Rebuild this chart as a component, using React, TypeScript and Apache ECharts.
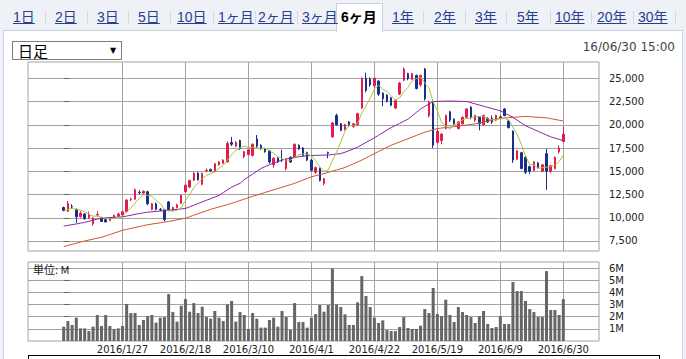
import React, { useEffect, useRef } from 'react';
import * as echarts from 'echarts';

const YEAR = '2016';
const dates = [
  '1/6','1/7','1/8','1/12','1/13','1/14','1/15','1/18','1/19','1/20',
  '1/21','1/22','1/25','1/26','1/27','1/28','1/29','2/1','2/2','2/3',
  '2/4','2/5','2/8','2/9','2/10','2/12','2/15','2/16','2/17','2/18',
  '2/19','2/22','2/23','2/24','2/25','2/26','2/29','3/1','3/2','3/3',
  '3/4','3/7','3/8','3/9','3/10','3/11','3/14','3/15','3/16','3/17',
  '3/18','3/22','3/23','3/24','3/25','3/28','3/29','3/30','3/31','4/1',
  '4/4','4/5','4/6','4/7','4/8','4/11','4/12','4/13','4/14','4/15',
  '4/18','4/19','4/20','4/21','4/22','4/25','4/26','4/27','4/28','5/2',
  '5/6','5/9','5/10','5/11','5/12','5/13','5/16','5/17','5/18','5/19',
  '5/20','5/23','5/24','5/25','5/26','5/27','5/30','5/31','6/1','6/2',
  '6/3','6/6','6/7','6/8','6/9','6/10','6/13','6/14','6/15','6/16',
  '6/17','6/20','6/21','6/22','6/23','6/24','6/27','6/28','6/29','6/30',
];
const labelDates = ['1/27', '2/18', '3/10', '4/1', '4/22', '5/19', '6/9', '6/30'];

const open = [
  11100,10700,11200,10900,10100,10400,10000,9350,10300,10000,
  9800,9700,10000,10200,10300,10650,11950,12000,12750,12650,
  12800,10900,11500,10900,10850,11700,10850,11100,11550,12800,
  13300,14050,14800,13600,15050,15200,14950,15700,15850,16000,
  18100,17700,18300,16600,16800,16700,18500,17800,17400,17200,
  15700,16400,16300,15300,16500,16500,17800,17500,17000,16200,
  14900,15300,13700,17050,18700,21000,20100,19500,20300,19800,
  20000,21800,25000,24900,24200,24700,23400,23200,22900,21800,
  23300,24800,25500,24900,25300,24300,26000,21000,22500,18100,
  18300,19600,21400,20600,19600,20100,20800,21900,20500,20800,
  20000,20700,20700,20500,20850,21700,20400,19300,16300,17000,
  16500,15500,15100,15900,15000,16900,15000,15300,17100,18200,
];
const close = [
  10800,11550,11150,10100,10500,9900,10350,9950,10350,9600,
  9550,9950,10250,10400,10650,11900,12000,13000,12700,12850,
  11500,11500,10900,10850,9800,10850,11100,11400,12400,13500,
  14000,14800,14100,14750,15100,15050,15800,16000,16200,18000,
  17900,18100,17450,17100,17300,17900,17700,17400,17100,16000,
  16400,16000,16250,16300,16000,17900,17400,16700,16200,15100,
  15400,14000,14200,16950,20200,20000,19400,20000,20000,20100,
  21200,25000,23700,24300,25000,23300,22800,22500,22100,22600,
  24500,26000,24950,25500,23900,25300,22800,22400,17800,19300,
  19000,21000,20500,20100,20300,20800,21700,20800,21000,20100,
  21000,20300,20300,21000,20750,21000,19700,16200,17200,15300,
  14900,15000,16000,15400,15700,15000,15600,16500,17500,19000,
];
const low = [
  10700,10600,10950,9450,10000,9800,9900,9150,10100,9550,
  9500,9650,9950,10100,10250,10600,11800,11950,12500,12550,
  11350,10800,10800,10700,9600,10700,10750,11000,11500,12700,
  13200,13950,14000,13500,14900,14950,14900,15600,15800,15950,
  17700,17600,17300,16400,16700,16600,17500,17300,17000,15800,
  15400,15900,16000,15100,15900,16400,17300,16600,16100,15000,
  14700,13900,13500,16400,18600,19900,19300,19400,19900,19700,
  19900,21700,23500,24100,24000,23100,22000,22400,22000,21700,
  23200,24700,24800,24800,23800,24100,22600,20800,17500,18000,
  17900,19500,20300,20000,19500,20000,20700,20600,20300,19400,
  19900,20200,20100,20400,20600,20900,19600,15900,16200,15200,
  14700,14700,15000,15300,14900,13000,14800,15200,16900,18100,
];
const high = [
  11200,11800,11450,11000,10700,10500,10650,10050,10700,10100,
  9900,10050,10350,10550,10750,12000,12150,13150,12950,12950,
  12900,11600,11650,11050,10950,11800,11200,11500,12500,13600,
  14100,14900,14900,14850,15300,15300,15900,16100,16300,18200,
  18700,18250,18400,17200,17400,18000,18900,17900,17500,17300,
  16500,16500,17300,16400,16600,18000,17900,17600,17100,16300,
  15500,15400,14300,17100,20300,21200,20200,20100,20400,20200,
  21300,25100,25600,25100,25100,24800,23500,23300,23000,22700,
  24600,26150,25600,25600,25400,25400,26100,22600,22700,19500,
  19100,21100,21500,20700,20400,20900,21800,22000,21100,20900,
  21100,20800,21000,21100,21000,21800,20500,19400,17300,17100,
  16600,15600,16100,16000,15800,17400,15700,16600,17800,19800,
];
// volume in millions of shares
const volume = [
  1.18,1.64,1.32,1.92,1.04,1.04,0.82,1.18,2.14,1.23,
  2.14,1.23,0.99,1.04,1.23,3.04,2.30,2.30,1.32,1.73,
  2.05,2.14,1.51,1.92,1.97,3.86,2.38,1.59,2.90,3.45,
  2.41,3.12,2.30,2.82,1.97,1.84,2.47,1.92,1.64,3.01,
  3.29,1.59,2.38,2.14,0.99,2.30,1.84,1.10,1.10,1.73,
  1.92,1.18,2.47,1.97,0.93,3.12,1.56,1.56,1.10,1.92,
  2.22,2.96,2.41,2.96,5.97,3.00,2.80,2.19,1.32,1.32,
  3.18,5.34,3.70,2.79,1.92,1.48,1.70,0.90,0.82,0.82,
  1.15,1.97,1.07,0.99,0.99,1.26,2.63,2.30,4.36,2.22,
  2.05,3.40,2.14,1.56,2.79,2.38,2.14,1.97,1.48,2.05,
  2.47,1.40,1.07,1.15,2.05,1.40,1.40,4.85,4.11,4.11,
  3.29,2.63,2.38,1.97,1.97,5.75,2.55,2.55,2.14,3.45,
];
const ma5 = [
  10700,10900,11000,10900,10820,10640,10400,10160,10210,10030,
  9960,9880,9940,9950,10160,10630,11040,11590,12050,12490,
  12410,12310,11890,11520,10910,10780,10700,10800,11110,11850,
  12480,13220,13760,14230,14550,14760,14960,15340,15630,16210,
  16780,17240,17530,17710,17570,17570,17490,17480,17480,17220,
  16920,16580,16350,16190,16190,16490,16770,16860,16840,16660,
  16160,15480,14980,15130,16150,17070,18150,19310,19920,19900,
  20140,21260,22000,22860,23840,24260,23820,23580,23140,22660,
  22900,23540,24030,24710,24970,25130,24490,23980,22440,21520,
  20260,19900,19520,19980,20180,20540,20680,20740,20920,20880,
  20920,20640,20540,20540,20670,20670,20550,19730,18970,17880,
  16660,15720,15680,15320,15400,15420,15540,15640,16060,16720,
];
const ma25 = [
  9100,9180,9260,9330,9420,9500,9620,9740,9860,9950,
  9990,10020,10050,10080,10100,10180,10270,10370,10450,10530,
  10600,10640,10680,10720,10760,10800,10850,10900,10950,11000,
  11180,11350,11530,11700,11880,12050,12230,12400,12700,13000,
  13300,13500,13700,14100,14400,14700,15000,15300,15500,15700,
  15900,16050,16200,16320,16420,16500,16560,16620,16660,16700,
  16710,16720,16740,16750,16800,16850,16900,17050,17230,17400,
  17600,17850,18100,18350,18600,18880,19150,19430,19700,19920,
  20150,20380,20600,20970,21330,21700,21970,22230,22500,22520,
  22530,22540,22550,22540,22530,22520,22500,22380,22250,22130,
  22000,21880,21750,21630,21500,21270,21030,20800,20500,20200,
  19900,19700,19500,19300,19100,18900,18700,18570,18430,18300,
];
const ma75 = [
  6900,7020,7140,7260,7380,7500,7600,7700,7800,7900,
  8050,8200,8350,8500,8650,8750,8850,8950,9050,9150,
  9250,9320,9390,9460,9530,9600,9690,9780,9870,9950,
  10110,10270,10430,10590,10750,10900,11030,11160,11290,11420,
  11550,11700,11850,12000,12150,12300,12440,12580,12720,12860,
  13000,13140,13280,13420,13560,13700,13880,14050,14230,14400,
  14520,14630,14750,14880,15010,15140,15270,15400,15600,15800,
  16000,16200,16430,16670,16900,17130,17350,17580,17800,17980,
  18150,18330,18500,18680,18850,19030,19200,19330,19470,19600,
  19650,19700,19750,19800,19860,19920,19980,20040,20100,20200,
  20300,20400,20500,20600,20700,20730,20770,20800,20830,20870,
  20900,20870,20840,20810,20780,20750,20660,20580,20490,20400,
];
const priceTicks = [7500, 10000, 12500, 15000, 17500, 20000, 22500, 25000];
const volumeTicks = [1, 2, 3, 4, 5, 6];
const tabLabels = ['1日','2日','3日','5日','10日','1ヶ月','2ヶ月','3ヶ月','6ヶ月','1年','2年','3年','5年','10年','20年','30年'];
const activeTab = '6ヶ月';
const stamp = '16/06/30 15:00';
const periodLabel = '日足';
const unitLabel = '単位: M';

// layout only
const tabX = [13, 55, 97, 138, 177, 218, 258, 302, 341, 392, 434, 475, 517, 555, 597, 638];
const sepX = [45, 87, 128, 170, 213, 255, 297, 423, 465, 506, 550, 591, 633, 675];

const RED = '#e31c4d';
const NAVY = '#1a2f8c';
const GRID = '#a3a3a3';
const FONT = 'DejaVu Sans';

export default function App() {
  const ref = useRef<HTMLDivElement>(null);
  useEffect(() => {
    const chart = echarts.init(ref.current!, undefined, { renderer: 'svg' });
    const gridIdx = labelDates.map((d) => dates.indexOf(d));
    const pad = 8.5;
    const xMin = -pad;
    const xMax = dates.length - 1 + pad;
    const option: any = {
      animation: false,
      backgroundColor: 'transparent',
      textStyle: { fontFamily: FONT },
      grid: [
        { left: 28, top: 62, width: 571, height: 189, show: true, borderColor: GRID, borderWidth: 1, backgroundColor: '#fff', outerBoundsMode: 'none' },
        { left: 28, top: 262, width: 571, height: 79, show: true, borderColor: GRID, borderWidth: 1, backgroundColor: '#fff', outerBoundsMode: 'none' },
      ],
      graphic: [
        { type: 'text', left: 33, top: 263, z: 10, style: { text: unitLabel, fontSize: 11, fill: '#222', fontFamily: 'Noto Sans CJK JP' } },
      ],
      xAxis: [
        {
          type: 'value', gridIndex: 0, min: xMin, max: xMax,
          axisLine: { show: false }, axisTick: { show: false, customValues: gridIdx },
          axisLabel: { show: false },
          splitLine: { show: true, lineStyle: { color: GRID, width: 1 } },
        },
        {
          type: 'value', gridIndex: 1, min: xMin, max: xMax,
          axisLine: { show: false }, axisTick: { show: false, customValues: gridIdx },
          axisLabel: {
            show: true, customValues: gridIdx, margin: 3, fontSize: 10, color: '#222', fontFamily: FONT,
            formatter: (v: number) => `${YEAR}/${dates[Math.round(v)]}`,
          },
          splitLine: { show: true, lineStyle: { color: GRID, width: 1 } },
        },
      ],
      yAxis: [
        {
          type: 'value', gridIndex: 0, position: 'right', min: 6424, max: 26754, scale: true,
          axisLine: { show: false },
          axisTick: { show: true, customValues: priceTicks, length: 6, lineStyle: { color: '#666' } },
          axisLabel: {
            show: true, customValues: priceTicks, margin: 10, fontSize: 10, color: '#222', fontFamily: FONT,
            formatter: (v: number) => v.toLocaleString('en-US'),
          },
          splitLine: { show: true, lineStyle: { color: GRID, width: 1 } },
        },
        {
          type: 'value', gridIndex: 1, position: 'right', min: 0, max: 6.5,
          axisLine: { show: false },
          axisTick: { show: true, customValues: volumeTicks, length: 6, lineStyle: { color: '#666' } },
          axisLabel: {
            show: true, customValues: volumeTicks, margin: 10, fontSize: 10, color: '#222', fontFamily: FONT,
            formatter: (v: number) => `${v}M`,
          },
          splitLine: { show: true, lineStyle: { color: GRID, width: 1 } },
        },
      ],
      series: [
        {
          type: 'candlestick', xAxisIndex: 0, yAxisIndex: 0, barWidth: 2, z: 2,
          data: dates.map((_, i) => [i, open[i], close[i], low[i], high[i]]),
          itemStyle: { color: RED, color0: NAVY, borderColor: RED, borderColor0: NAVY, borderWidth: 1 },
        },
        {
          type: 'line', xAxisIndex: 0, yAxisIndex: 0, z: 3, symbol: 'none', showSymbol: false,
          data: dates.map((_, i) => [i, ma75[i]]), lineStyle: { color: '#c9562c', width: 1 },
        },
        {
          type: 'line', xAxisIndex: 0, yAxisIndex: 0, z: 3, symbol: 'none', showSymbol: false,
          data: dates.map((_, i) => [i, ma25[i]]), lineStyle: { color: '#8a24a8', width: 1 },
        },
        {
          type: 'line', xAxisIndex: 0, yAxisIndex: 0, z: 4, symbol: 'none', showSymbol: false,
          data: dates.map((_, i) => [i, ma5[i]]), lineStyle: { color: '#a9c23c', width: 1 },
        },
        {
          type: 'bar', xAxisIndex: 1, yAxisIndex: 1, barWidth: 3, z: 2,
          data: dates.map((_, i) => [i, volume[i]]), itemStyle: { color: '#666666' },
        },
      ],
    };
    chart.setOption(option);
    return () => chart.dispose();
  }, []);

  const tabFont = '"Liberation Sans", "Noto Sans CJK JP", sans-serif';
  return (
    <div style={{ position: 'fixed', left: 0, top: 0, width: 686, height: 359, background: '#eef2f7', overflow: 'hidden' }}>
      <div style={{ position: 'absolute', left: 3, top: 30, width: 680, height: 340, background: '#fff', border: '1px solid #c9d3df', boxSizing: 'border-box' }} />
      <div style={{ position: 'absolute', left: 336, top: 3, width: 47, height: 29, background: '#fff', border: '1px solid #c9d3df', borderBottom: 'none', boxSizing: 'border-box' }} />
      {sepX.map((x, k) => (
        <div key={'s' + k} style={{ position: 'absolute', left: x, top: 11, width: 1, height: 13, background: '#d3d9e1' }} />
      ))}
      {tabLabels.map((t, k) => (
        <span
          key={t}
          style={{
            position: 'absolute', left: tabX[k], top: 9, fontSize: 14, lineHeight: '16px', fontFamily: tabFont,
            color: t === activeTab ? '#000' : '#2a3e8e',
            fontWeight: t === activeTab ? 'bold' : 'normal',
            textDecoration: t === activeTab ? 'none' : 'underline',
            whiteSpace: 'nowrap',
          }}
        >
          {t}
        </span>
      ))}
      <div ref={ref} style={{ position: 'absolute', left: 0, top: 0, width: 686, height: 359 }} />
      <div style={{ position: 'absolute', left: 12, top: 41, width: 110, height: 19, border: '1px solid #7f7f7f', background: '#fff', boxSizing: 'border-box' }}>
        <span style={{ position: 'absolute', left: 5, top: 0, fontSize: 15, lineHeight: '17px', fontFamily: '"Noto Sans CJK JP", sans-serif', color: '#000' }}>{periodLabel}</span>
        <span style={{ position: 'absolute', left: 97, top: 1, fontSize: 8, lineHeight: '15px', fontFamily: FONT, color: '#000' }}>▼</span>
      </div>
      <span style={{ position: 'absolute', right: 11, top: 39, fontSize: 12, lineHeight: '16px', fontFamily: FONT, color: '#444', whiteSpace: 'nowrap' }}>{stamp}</span>
      <div style={{ position: 'absolute', left: 28, top: 355, width: 632, height: 20, border: '1px solid #000', boxSizing: 'border-box' }} />
    </div>
  );
}
